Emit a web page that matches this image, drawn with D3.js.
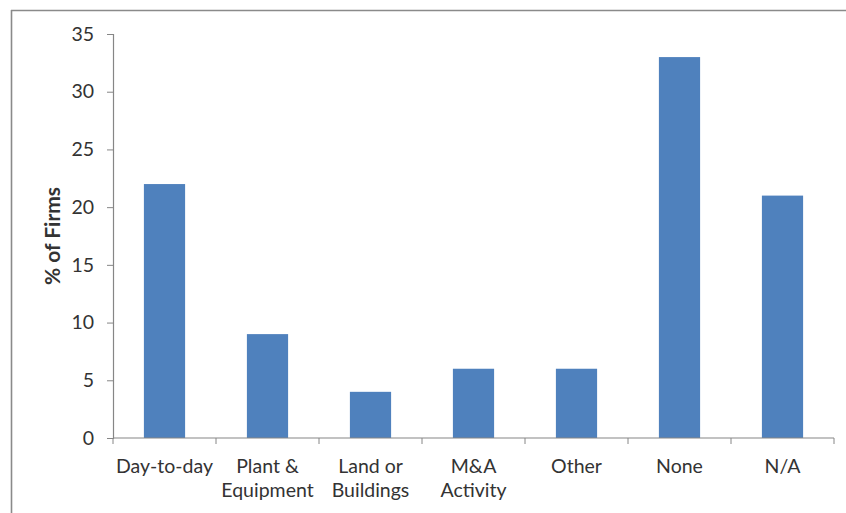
<!DOCTYPE html>
<html>
<head>
<meta charset="utf-8">
<script src="https://cdn.jsdelivr.net/npm/d3@7"></script>
<style>
  body { margin: 0; background: #fff; }
  text { font-family: Lato, "Open Sans", sans-serif; fill: #333; }
</style>
</head>
<body>
<svg id="canvas" width="846" height="513"></svg>
<script>
// chart data
const categories = ["Day-to-day", "Plant & Equipment", "Land or Buildings", "M&A Activity", "Other", "None", "N/A"]
const labelLines = [["Day-to-day"], ["Plant &", "Equipment"], ["Land or", "Buildings"], ["M&A", "Activity"], ["Other"], ["None"], ["N/A"]]
const values = [22, 9, 4, 6, 6, 33, 21]
const yTicks = [0, 5, 10, 15, 20, 25, 30, 35]

let svg = d3.select("#canvas")

// outer frame (only top and left edges are visible)
svg.append("line")
   .attr("x1", 11).attr("x2", 846)
   .attr("y1", 10.5).attr("y2", 10.5)
   .attr("stroke", "#8a8a8a").attr("stroke-width", 1.6)
svg.append("line")
   .attr("x1", 11.5).attr("x2", 11.5)
   .attr("y1", 10).attr("y2", 513)
   .attr("stroke", "#8a8a8a").attr("stroke-width", 1.6)

const plotLeft = 113, plotRight = 834, plotTop = 34, plotBottom = 438

let x = d3.scaleBand()
          .domain(categories)
          .range([plotLeft, plotRight])
          .paddingInner(0.6)
          .paddingOuter(0.3)

let y = d3.scaleLinear()
          .domain([0, 35])
          .range([plotBottom, plotTop])

// bars
svg.selectAll("rect.bar")
   .data(values)
   .enter()
   .append("rect")
   .attr("class", "bar")
   .attr("x", (d, i) => x(categories[i]))
   .attr("y", (d) => y(d))
   .attr("width", x.bandwidth())
   .attr("height", (d) => y(0) - y(d))
   .attr("fill", "#4f81bd")

// y axis
let yAxis = d3.axisLeft(y)
              .tickValues(yTicks)
              .tickSize(6)
              .tickPadding(13)
let gy = svg.append("g")
            .attr("transform", "translate(" + plotLeft + ",0)")
            .call(yAxis)
gy.select(".domain").attr("stroke", "#868686").attr("stroke-width", 1.2)
gy.selectAll(".tick line").attr("stroke", "#868686")
gy.selectAll(".tick text")
  .style("font-size", "19.5px")
  .style("font-family", "Lato, 'Open Sans', sans-serif")
  .attr("fill", "#333")

// x axis, tick marks sit on category boundaries
let gx = svg.append("g")
            .attr("transform", "translate(0," + plotBottom + ")")
gx.append("line")
  .attr("x1", plotLeft).attr("x2", plotRight)
  .attr("y1", 0).attr("y2", 0)
  .attr("stroke", "#868686").attr("stroke-width", 1.2)
const step = x.step()
const bounds = d3.range(categories.length + 1).map((i) => x(categories[0]) - x.paddingOuter() * step + i * step)
gx.selectAll("line.tick")
  .data(bounds)
  .enter()
  .append("line")
  .attr("class", "tick")
  .attr("x1", (d) => d).attr("x2", (d) => d)
  .attr("y1", 0).attr("y2", 6)
  .attr("stroke", "#868686")

let labels = gx.selectAll("text.cat")
               .data(categories)
               .enter()
               .append("text")
               .attr("class", "cat")
               .attr("text-anchor", "middle")
               .style("font-size", "19.5px")
               .attr("transform", (d) => "translate(" + (x(d) + x.bandwidth() / 2) + ",0)")
labels.selectAll("tspan")
      .data((d, i) => labelLines[i])
      .enter()
      .append("tspan")
      .attr("x", 0)
      .attr("y", (d, i) => 35 + i * 24)
      .text((d) => d)

// y axis title
svg.append("text")
   .attr("transform", "translate(60," + ((plotTop + plotBottom) / 2) + ") rotate(-90)")
   .attr("text-anchor", "middle")
   .style("font-size", "21px")
   .style("font-weight", "bold")
   .attr("fill", "#111")
   .text("% of Firms")
</script>
</body>
</html>
